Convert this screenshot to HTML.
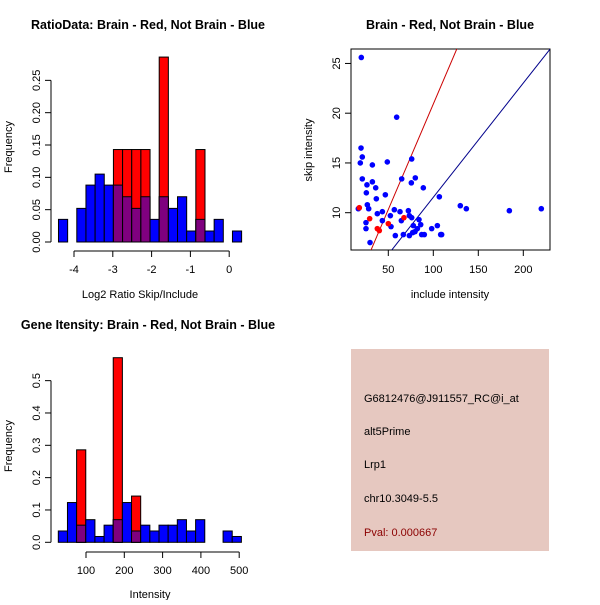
<!DOCTYPE html>
<html><head><meta charset="utf-8"><style>
html,body{margin:0;padding:0;background:#fff;}
svg text{font-family:"Liberation Sans",Arial,sans-serif;}
</style></head><body>
<svg id="chart" width="600" height="600" xmlns="http://www.w3.org/2000/svg">
<rect width="600" height="600" fill="#fff"/>
<text x="148" y="29" font-size="12.5" font-weight="bold" text-anchor="middle">RatioData: Brain - Red, Not Brain - Blue</text>
<text x="450" y="29" font-size="12.5" font-weight="bold" text-anchor="middle">Brain - Red, Not Brain - Blue</text>
<text x="148" y="329" font-size="12.5" font-weight="bold" text-anchor="middle">Gene Itensity: Brain - Red, Not Brain - Blue</text>
<text x="140" y="298" font-size="11" text-anchor="middle">Log2 Ratio Skip/Include</text>
<text x="150" y="598" font-size="11" text-anchor="middle">Intensity</text>
<text transform="translate(12,147) rotate(-90)" font-size="11" text-anchor="middle">Frequency</text>
<text transform="translate(12,446) rotate(-90)" font-size="11" text-anchor="middle">Frequency</text>
<text x="450" y="298" font-size="11" text-anchor="middle">include intensity</text>
<text transform="translate(312,150) rotate(-90)" font-size="11" text-anchor="middle">skip intensity</text>
<g>
<rect x="351" y="349" width="198" height="202" fill="#e6c8c0"/>
<text x="364" y="402" font-size="11">G6812476@J911557_RC@i_at</text>
<text x="364" y="435" font-size="11">alt5Prime</text>
<text x="364" y="468" font-size="11">Lrp1</text>
<text x="364" y="502" font-size="11">chr10.3049-5.5</text>
<text x="364" y="536" font-size="11" fill="#8b0000">Pval: 0.000667</text>
</g>
</svg>
<script>
const NS="http://www.w3.org/2000/svg";
const svg=document.getElementById('chart');
function mk(tag,attrs,parent){const e=document.createElementNS(NS,tag);for(const k in attrs)e.setAttribute(k,attrs[k]);(parent||svg).appendChild(e);return e;}

// ---- Ratio histogram data ----
const ratioBinStart=-4.4, ratioBinWidth=0.236;
const ratioBlue=[0.035,0,0.052,0.088,0.105,0.088,0.088,0.07,0.052,0.07,0.035,0.07,0.052,0.07,0.017,0.035,0.017,0.035,0,0.017];
const ratioRed=[0,0,0,0,0,0,0.143,0.143,0.143,0.143,0,0.286,0,0,0,0.143,0,0,0,0];
const ratioXTicks=[-4,-3,-2,-1,0];
const ratioYTicks=[0,0.05,0.10,0.15,0.20,0.25];
const ratioYLabels=["0.00","0.05","0.10","0.15","0.20","0.25"];

// ---- Intensity histogram data ----
const intBinStart=27.7, intBinWidth=23.9;
const intBlue=[0.035,0.123,0.053,0.07,0.018,0.053,0.07,0.123,0.035,0.053,0.035,0.053,0.053,0.07,0.035,0.07,0,0,0.035,0.018];
const intRed=[0,0,0.286,0,0,0,0.571,0,0.143,0,0,0,0,0,0,0,0,0,0,0];
const intXTicks=[100,200,300,400,500];
const intYTicks=[0,0.1,0.2,0.3,0.4,0.5];
const intYLabels=["0.0","0.1","0.2","0.3","0.4","0.5"];

// ---- Scatter data ----
const blueX=[20.0,19.7,21.1,18.9,21.1,32.3,32.3,26.3,25.6,36.0,36.7,26.7,28.2,16.7,37.8,43.4,48.9,46.7,59.3,76.0,64.9,75.6,80.0,88.9,56.7,52.3,43.4,63.0,72.3,73.4,76.0,84.1,64.5,77.8,86.0,82.3,79.7,77.1,66.7,57.8,73.4,87.1,90.0,98.2,104.5,108.2,109.3,106.7,130.0,136.7,184.5,220.0,25.2,25.2,29.7,53.0];
const blueY=[25.6,16.5,15.6,15.0,13.4,14.8,13.1,12.8,12.0,12.5,11.4,10.8,10.4,10.4,9.9,10.1,15.1,11.8,19.6,15.4,13.4,13.0,13.5,12.5,10.3,9.7,9.2,10.1,10.2,9.7,9.5,9.3,9.2,8.7,8.8,8.4,8.1,8.0,7.8,7.7,7.7,7.8,7.8,8.4,8.7,7.8,7.8,11.6,10.7,10.4,10.2,10.4,9.0,8.4,7.0,8.6];
const redX=[17.8,29.3,37.8,40.0,50.0,67.4];
const redY=[10.5,9.4,8.4,8.2,8.9,9.5];
const redFit=[-0.28,0.212];   // intercept, slope
const blueFit=[0.07,0.1148];
const scatXTicks=[50,100,150,200];
const scatYTicks=[10,15,20,25];

function hist(name,blue,red,bStart,bW,xs,ys,xTicks,yTicks,yLabels,axisY){
  const g=mk('g',{});
  
  
  for(let i=0;i<blue.length;i++){
    const x0=xs(bStart+i*bW), x1=xs(bStart+(i+1)*bW);
    const b=blue[i], r=red[i];
    if(b>0){const e=mk('rect',{x:x0,y:ys(b),width:x1-x0,height:ys(0)-ys(b),fill:'#0000ff',stroke:'#000','stroke-width':1},g);
      
      }
    if(r>0){const e=mk('rect',{x:x0,y:ys(r),width:x1-x0,height:ys(0)-ys(r),fill:'#ff0000',stroke:'#000','stroke-width':1},g);
      
      
      const m=Math.min(b,r);
      if(m>0){const p=mk('rect',{x:x0,y:ys(m),width:x1-x0,height:ys(0)-ys(m),fill:'#7f007f',stroke:'#000','stroke-width':1},g);
        
        }}
  }
  // x axis
  const xa=mk('g',{stroke:'#000','stroke-width':1},g);
  
  
  mk('line',{x1:xs(xTicks[0]),x2:xs(xTicks[xTicks.length-1]),y1:axisY,y2:axisY},xa);
  xTicks.forEach(t=>{mk('line',{x1:xs(t),x2:xs(t),y1:axisY,y2:axisY+6},xa);
    const tx=mk('text',{x:xs(t),y:axisY+22,'font-size':11,'text-anchor':'middle',stroke:'none'},g);tx.textContent=t;
    
    });
  const ya=mk('g',{stroke:'#000','stroke-width':1},g);
  
  
  mk('line',{x1:51,x2:51,y1:ys(yTicks[0]),y2:ys(yTicks[yTicks.length-1])},ya);
  yTicks.forEach((t,i)=>{mk('line',{x1:45,x2:51,y1:ys(t),y2:ys(t)},ya);
    const tx=mk('text',{transform:`translate(40,${ys(t)}) rotate(-90)`,'font-size':11,'text-anchor':'middle'},g);tx.textContent=yLabels[i];
    
    });
}
hist('ratio-histogram',ratioBlue,ratioRed,ratioBinStart,ratioBinWidth,
  v=>74+(v+4)*38.8, v=>242-v*646.6, ratioXTicks,ratioYTicks,ratioYLabels,251);
hist('intensity-histogram',intBlue,intRed,intBinStart,intBinWidth,
  v=>47.7+v*0.383, v=>542.3-v*323.3, intXTicks,intYTicks,intYLabels,552);

// scatter
const sx=v=>343.3+v*0.9, sy=v=>212.7-(v-10)*9.95;
const sg=mk('g',{});


const clip=mk('clipPath',{id:'sc'},sg);mk('rect',{x:351,y:49,width:199,height:201},clip);
mk('rect',{x:351,y:49,width:199,height:201,fill:'none',stroke:'#000'},sg);
[[redFit,'#cc0000','red-fit-line'],[blueFit,'#00008b','blue-fit-line']].forEach(([f,c,n])=>{
  const l=mk('line',{x1:sx(0),y1:sy(f[0]),x2:sx(250),y2:sy(f[0]+f[1]*250),stroke:c,'stroke-width':1,'clip-path':'url(#sc)'},sg);
  
  });
blueX.forEach((x,i)=>{const c=mk('circle',{cx:sx(x),cy:sy(blueY[i]),r:2.8,fill:'#0000ff'},sg);
  
  });
redX.forEach((x,i)=>{const c=mk('circle',{cx:sx(x),cy:sy(redY[i]),r:2.8,fill:'#ff0000'},sg);
  
  });
scatXTicks.forEach(t=>{mk('line',{x1:sx(t),x2:sx(t),y1:250,y2:256,stroke:'#000'},sg);
  const tx=mk('text',{x:sx(t),y:273,'font-size':11,'text-anchor':'middle'},sg);tx.textContent=t;
  
  });
scatYTicks.forEach(t=>{mk('line',{x1:345,x2:351,y1:sy(t),y2:sy(t),stroke:'#000'},sg);
  const tx=mk('text',{transform:`translate(340,${sy(t)}) rotate(-90)`,'font-size':11,'text-anchor':'middle'},sg);tx.textContent=t;
  
  });
</script>
</body></html>
